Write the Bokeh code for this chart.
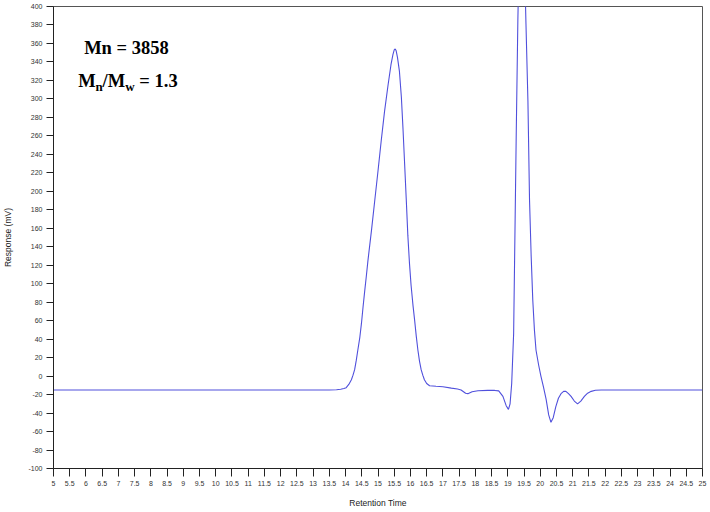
from bokeh.plotting import figure
from bokeh.models import FixedTicker, CustomJSTickFormatter, Label, Range1d
from bokeh.embed import file_html
from bokeh.resources import INLINE

# ---- data ----
time = [5.0, 13.5, 13.72, 13.85, 13.95, 14.02, 14.1, 14.18, 14.23, 14.28, 14.33, 14.38,
        14.44, 14.49, 14.54, 14.59, 14.64, 14.69, 14.8, 14.9, 15.0, 15.1, 15.2, 15.31,
        15.4, 15.46, 15.5, 15.53, 15.56, 15.6, 15.66, 15.72, 15.77, 15.82, 15.87, 15.92,
        15.97, 16.02, 16.08, 16.13, 16.18, 16.23, 16.28, 16.33, 16.38, 16.43, 16.5,
        16.59, 16.79, 17.0, 17.26, 17.45, 17.56, 17.7, 17.77, 17.9, 18.08, 18.38, 18.6,
        18.72, 18.85, 18.95, 19.02, 19.07, 19.12, 19.18, 19.22, 19.26, 19.31, 19.34,
        19.43, 19.52, 19.56, 19.62, 19.67, 19.72, 19.77, 19.82, 19.87, 19.95, 20.02,
        20.1, 20.18, 20.26, 20.33, 20.4, 20.48, 20.56, 20.64, 20.72, 20.79, 20.87,
        20.95, 21.05, 21.15, 21.25, 21.36, 21.46, 21.57, 21.7, 21.88, 25.0]
response = [-15, -15, -14.7, -14.3, -13.5, -12.5, -9, -4, 1, 7, 17, 28.5,
            42, 57, 75, 92, 108, 125, 158, 190, 222, 255, 286, 315,
            337, 348, 353, 354, 352, 345, 330, 302, 268, 230, 192, 152,
            122, 98, 76, 60, 43, 28, 16, 7, 1, -4, -8,
            -10.4, -11, -11.5, -13, -14, -15, -18.5, -19, -17, -15.8, -15.5, -15.5,
            -16, -22, -32, -36, -30, -8, 46, 154, 262, 385, 440,
            475, 440, 381, 298, 190, 130, 82, 50, 28, 12, 0,
            -12, -25, -42, -50, -45, -33, -24, -19, -16.5, -16.5, -19,
            -22, -27, -30, -27, -22, -18.5, -16.5, -15.3, -15, -15]

x_ticks = [5 + 0.5 * i for i in range(41)]
y_ticks = list(range(-100, 401, 20))

x_title = "Retention Time"
y_title = "Response (mV)"

# ---- geometry helpers (image pixel -> data) for annotation placement ----
FL, FW, FT, FH = 52.0, 650.0, 6.0, 463.0
def dx(px):
    return 5 + (px - FL) / (FW / 20.0)
def dy(py):
    return 400 - (py - FT) / (FH / 500.0)

p = figure(width=708, height=510, x_range=Range1d(5, 25), y_range=Range1d(-100, 400),
           output_backend="svg", toolbar_location=None,
           min_border_left=52, min_border_right=6, min_border_top=6, min_border_bottom=41)
p.background_fill_color = "white"
p.border_fill_color = "white"
p.grid.visible = False
p.outline_line_color = "#555555"
p.outline_line_width = 1

p.line(time, response, line_color="#5050dc", line_width=1.1)

fmt = CustomJSTickFormatter(code="return tick.toString();")
for ax, ticks in ((p.xaxis[0], x_ticks), (p.yaxis[0], y_ticks)):
    ax.ticker = FixedTicker(ticks=ticks, minor_ticks=[])
    ax.formatter = fmt
    ax.major_tick_in = 0
    ax.minor_tick_in = 0
    ax.minor_tick_out = 0
    ax.axis_line_color = "#222222"
    ax.major_tick_line_color = "#222222"
    ax.major_label_text_font = "Liberation Sans"
    ax.major_label_text_font_size = "7px"
    ax.major_label_text_color = "#333333"
    ax.axis_label_text_font = "Liberation Sans"
    ax.axis_label_text_font_size = "8.5px"
    ax.axis_label_text_font_style = "normal"
    ax.axis_label_text_color = "#222222"
p.xaxis.major_tick_out = 8
p.xaxis.major_label_standoff = 4
p.xaxis.axis_label = x_title
p.xaxis.axis_label_standoff = 9
p.yaxis.major_tick_out = 7
p.yaxis.major_label_standoff = 4
p.yaxis.axis_label = y_title
p.yaxis.axis_label_standoff = 12

# annotations
big = "18.5px"
small = "13px"
pieces = [
    ("Mn = 3858", 82.7, 47.3, big),
    ("M", 76.7, 81, big),
    ("n", 94.0, 86, small),
    ("/M", 101.2, 81, big),
    ("w", 123.8, 86, small),
    ("= 1.3", 138.0, 81, big),
]
for txt, px, py, fs in pieces:
    p.add_layout(Label(x=dx(px), y=dy(py), text=txt, text_align="left",
                       text_baseline="alphabetic", text_font="Liberation Serif",
                       text_font_style="bold", text_font_size=fs, text_color="black"))

open("out.html", "w").write(file_html(p, INLINE))
